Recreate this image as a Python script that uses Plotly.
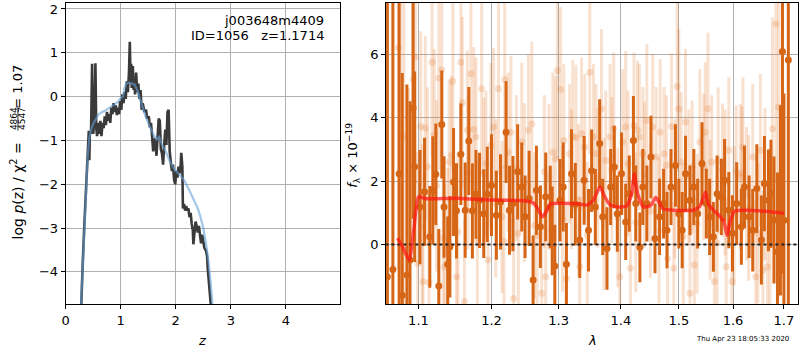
import math
import plotly.graph_objects as go

# ---------------- left panel: redshift PDF ----------------
pz_z = [0.27, 0.28, 0.31, 0.34, 0.37, 0.40, 0.42, 0.43, 0.44, 0.46, 0.48, 0.49, 0.50, 0.52, 0.54,
        0.555, 0.57, 0.59, 0.61, 0.63, 0.65, 0.67, 0.69, 0.71, 0.73, 0.75, 0.77, 0.79, 0.81, 0.83,
        0.85, 0.87, 0.89, 0.91, 0.93, 0.95, 0.97, 0.99, 1.01, 1.03, 1.05, 1.07, 1.09, 1.11, 1.13,
        1.15, 1.165, 1.18, 1.19, 1.20, 1.22, 1.235, 1.25, 1.26, 1.28, 1.30, 1.32, 1.34, 1.36, 1.38,
        1.40, 1.43, 1.46, 1.48, 1.51, 1.53, 1.55, 1.57, 1.59, 1.61, 1.63, 1.65, 1.67, 1.69, 1.71,
        1.73, 1.75, 1.77, 1.79, 1.81, 1.83, 1.85, 1.87, 1.89, 1.91, 1.93, 1.95, 1.97, 1.99, 2.01,
        2.03, 2.05, 2.07, 2.09, 2.10, 2.12, 2.13, 2.15, 2.17, 2.19, 2.21, 2.23, 2.25, 2.27, 2.29,
        2.31, 2.32, 2.34, 2.36, 2.38, 2.40, 2.42, 2.44, 2.46, 2.48, 2.50, 2.52, 2.55, 2.57, 2.58,
        2.60, 2.62, 2.64, 2.66]
pz_logp = [-5.2, -4.74, -3.8, -2.9, -2.0, -1.2, -0.78, -1.45, -0.78, -0.85, 0.75, -0.6, -0.85, -0.55, 0.76,
           -0.70, -0.9, -0.6, -0.85, -0.55, -0.9, -0.6, -0.72, -0.45, -0.65, -0.35, -0.55, -0.4, -0.6, -0.25,
           -0.4, -0.15, -0.35, -0.2, -0.42, -0.25, -0.4, -0.1, -0.3, 0.05, -0.15, 0.1, -0.05, 0.35, 0.1,
           0.55, 1.25, 0.3, 0.75, 0.2, 0.7, 0.15, 0.45, 0.05, 0.55, 0.1, 0.3, -0.05, 0.15, -0.3,
           -0.15, -0.35, -0.3, -0.5, -0.45, -0.7, -0.6, -0.9, -1.25, -0.95, -1.05, -1.35, -0.75, -0.5, -0.55,
           -1.2, -1.3, -1.55, -1.1, -0.75, -1.1, -0.35, -0.3, -1.25, -1.5, -1.7, -1.55, -1.9, -2.0, -1.7,
           -1.85, -1.6, -1.75, -1.55, -1.28, -1.6, -2.55, -2.45, -2.6, -2.5, -2.6, -2.55, -2.75, -2.65, -2.9,
           -3.05, -3.37, -3.0, -2.85, -2.95, -3.1, -2.95, -3.2, -3.35, -3.15, -3.3, -3.45, -3.52, -3.65, -3.9,
           -4.2, -4.5, -4.75, -5.1]

chi_z = [0.27, 0.32, 0.36, 0.40, 0.43, 0.46, 0.50, 0.55, 0.60, 0.65, 0.70, 0.80, 0.90, 0.95, 1.00,
         1.04, 1.07, 1.10, 1.15, 1.20, 1.25, 1.30, 1.35, 1.40, 1.45, 1.50, 1.55, 1.60, 1.65, 1.70,
         1.75, 1.80, 1.85, 1.90, 1.96, 2.05, 2.15, 2.25, 2.33, 2.40, 2.45, 2.50, 2.55, 2.60, 2.63, 2.66, 2.70]
chi_logp = [-5.0, -3.6, -2.4, -1.35, -0.95, -0.75, -0.62, -0.52, -0.40, -0.36, -0.33, -0.25, -0.15, -0.12, -0.03,
            0.0, 0.2, 0.3, 0.32, 0.3, 0.28, 0.15, -0.05, -0.3, -0.45, -0.6, -0.75, -0.88, -0.98, -0.92,
            -1.1, -1.2, -1.35, -1.5, -1.63, -1.75, -1.9, -2.15, -2.35, -2.55, -2.75, -3.0, -3.35, -3.8, -4.2, -4.65, -5.2]

# ---------------- right panel: spectrum ----------------
dark_wave = [1.060, 1.067, 1.075, 1.079, 1.085, 1.089, 1.093, 1.095, 1.102, 1.108,
             1.115, 1.119, 1.123, 1.127, 1.131, 1.134, 1.139, 1.142, 1.147, 1.151,
             1.157, 1.163, 1.168, 1.173, 1.178, 1.183, 1.189, 1.194, 1.200, 1.207,
             1.213, 1.221, 1.226, 1.231, 1.238, 1.244, 1.249, 1.255, 1.261, 1.266,
             1.272, 1.280, 1.287, 1.290, 1.294, 1.302, 1.307, 1.312, 1.320, 1.326,
             1.333, 1.340, 1.347, 1.352, 1.358, 1.365, 1.370, 1.377, 1.383, 1.389,
             1.394, 1.401, 1.408, 1.414, 1.421, 1.425, 1.432, 1.437, 1.444, 1.451,
             1.458, 1.466, 1.473, 1.479, 1.486, 1.494, 1.500, 1.506, 1.512, 1.520,
             1.527, 1.534, 1.542, 1.550, 1.556, 1.563, 1.570, 1.578, 1.584, 1.592,
             1.599, 1.607, 1.616, 1.622, 1.631, 1.638, 1.646, 1.655, 1.661, 1.669,
             1.674, 1.680, 1.687, 1.693, 1.697, 1.700, 1.709]
dark_flux = [-1.02, -0.79, 2.23, -1.6, -0.96, -0.49, 4.31, 2.45, 1.18, 1.66,
             0.24, 1.71, 2.21, -1.31, 3.78, 1.18, -0.62, -0.07, 1.97, 1.06,
             2.84, 1.08, 3.26, 1.06, 1.58, 1.39, 0.97, 1.58, 1.87, 0.92,
             1.34, 3.54, 1.08, 1.29, 2.29, 1.81, 0.87, 1.45, -1.12, 1.71,
             0.56, 1.50, 1.18, 0.43, -0.68, 1.39, 1.81, -0.62, 2.23, 1.27,
             0.14, 2.02, 0.45, 2.32, 1.18, 3.18, 0.87, -0.13, 1.81, 2.44,
             0.97, 2.23, 0.71, 1.60, 3.28, 1.29, -0.09, 1.81, 1.29, 2.76,
             0.19, 0.87, 1.29, 0.45, 1.81, 2.49, 0.97, 0.45, 2.23, 1.39,
             1.81, 0.97, 2.55, 1.29, 0.87, 0.24, 1.60, 1.50, 2.02, 1.08,
             0.35, 1.29, 0.56, 1.81, 0.87, 0.45, 1.76, 0.14, 1.92, 1.39,
             1.60, 0.77, -0.23, 1.39, 6.08, 0.76, 5.81]
dark_err = [9, 9, 8, 7, 6, 5, 3.5, 3.0, 1.8, 1.7,
            1.6, 1.7, 1.6, 1.8, 1.7, 1.6, 1.5, 1.6, 1.7, 1.5,
            1.6, 1.5, 1.7, 1.5, 1.4, 1.5, 1.4, 1.5, 1.6, 1.4,
            1.5, 1.6, 1.4, 1.5, 1.5, 1.4, 1.3, 1.5, 1.4, 1.4,
            1.3, 1.4, 1.3, 1.4, 1.3, 1.3, 1.4, 1.3, 1.4, 1.3,
            1.2, 1.4, 1.3, 1.3, 1.2, 1.4, 1.2, 1.3, 1.2, 1.3,
            1.2, 1.3, 1.2, 1.2, 1.4, 1.2, 1.1, 1.2, 1.2, 1.3,
            1.1, 1.2, 1.1, 1.2, 1.2, 1.3, 1.1, 1.2, 1.2, 1.1,
            1.2, 1.1, 1.3, 1.1, 1.2, 1.1, 1.2, 1.2, 1.3, 1.2,
            1.2, 1.3, 1.2, 1.3, 1.3, 1.3, 1.4, 1.4, 1.5, 1.6,
            1.7, 2.0, 2.5, 3.0, 7.0, 4.0, 9.0]

light_wave = [1.074, 1.077, 1.081, 1.087, 1.093, 1.096, 1.099, 1.103, 1.106, 1.109,
              1.114, 1.118, 1.121, 1.127, 1.131, 1.135, 1.139, 1.144, 1.146, 1.151,
              1.157, 1.159, 1.162, 1.166, 1.171, 1.175, 1.178, 1.186, 1.189, 1.195,
              1.199, 1.203, 1.210, 1.215, 1.219, 1.224, 1.228, 1.232, 1.239, 1.244,
              1.254, 1.259, 1.267, 1.274, 1.280, 1.285, 1.291, 1.298, 1.303, 1.308,
              1.312, 1.317, 1.322, 1.327, 1.333, 1.336, 1.341, 1.349, 1.355, 1.359,
              1.368, 1.375, 1.382, 1.388, 1.398, 1.403, 1.408, 1.416, 1.422, 1.428,
              1.431, 1.437, 1.444, 1.454, 1.460, 1.467, 1.474, 1.480, 1.487, 1.491,
              1.497, 1.500, 1.504, 1.512, 1.520, 1.524, 1.528, 1.538, 1.548, 1.553,
              1.560, 1.565, 1.572, 1.580, 1.587, 1.592, 1.598, 1.606, 1.614, 1.619,
              1.626, 1.638, 1.644, 1.653, 1.658, 1.667, 1.677, 1.684, 1.689]
light_flux = [6.21, 3.54, 3.39, -0.07, 5.20, 5.90, -0.60, 3.72, -1.17, 3.67,
              -1.20, 5.74, 3.46, 5.25, 5.50, -0.70, -0.28, 2.81, 5.14, -1.02,
              5.74, 4.47, -1.80, 3.61, 5.38, 3.62, 3.39, 4.91, 2.23, -0.49,
              3.12, 3.70, 4.91, 0.87, 5.20, 2.91, 3.54, -1.70, 0.35, 3.23,
              3.60, 3.80, 0.29, -1.54, -1.02, 2.13, 2.91, 5.48, 4.88, 3.28,
              -1.07, 2.86, 3.41, 3.36, -0.70, 3.49, 3.07, 5.43, 3.39, 2.86,
              4.28, 2.65, 3.39, 3.65, -1.02, 3.23, 3.70, -0.75, 3.75, 3.60,
              3.39, 2.86, 3.91, 3.70, 2.76, 3.54, 2.86, -0.44, 3.72, -0.75,
              4.98, 4.28, 2.60, 3.86, -1.54, 2.44, -0.65, 3.23, 3.54, 4.28,
              2.60, -1.17, 2.65, 2.34, -0.70, 2.97, -1.17, 2.29, 2.13, 3.07,
              1.60, 2.76, -1.02, 2.97, -0.81, -0.70, 3.65, 6.95, 4.33]
light_err = [7, 6, 6, 5, 4.5, 4, 3.5, 3.0, 2.8, 2.9,
             2.8, 3.0, 2.7, 2.9, 2.8, 2.6, 2.7, 2.5, 2.8, 2.6,
             2.9, 2.7, 2.6, 2.5, 2.8, 2.6, 2.5, 2.7, 2.4, 2.5,
             2.6, 2.5, 2.7, 2.4, 2.8, 2.5, 2.4, 2.6, 2.3, 2.5,
             2.4, 2.6, 2.3, 2.5, 2.4, 2.3, 2.5, 2.8, 2.6, 2.4,
             2.3, 2.2, 2.4, 2.3, 2.2, 2.4, 2.3, 2.6, 2.3, 2.2,
             2.5, 2.2, 2.3, 2.4, 2.2, 2.3, 2.4, 2.1, 2.3, 2.2,
             2.3, 2.1, 2.4, 2.3, 2.2, 2.3, 2.1, 2.2, 2.3, 2.1,
             2.7, 2.5, 2.2, 2.3, 2.2, 2.1, 2.2, 2.3, 2.2, 2.4,
             2.1, 2.2, 2.3, 2.1, 2.2, 2.3, 2.2, 2.1, 2.3, 2.2,
             2.1, 2.3, 2.4, 2.4, 2.5, 2.6, 3.5, 5.0, 6.0]

light2_wave = [1.105, 1.112, 1.124, 1.133, 1.141, 1.153, 1.167, 1.180, 1.192, 1.206,
               1.218, 1.236, 1.248, 1.263, 1.278, 1.295, 1.306, 1.320, 1.331, 1.345,
               1.362, 1.372, 1.385, 1.395, 1.412, 1.425, 1.440, 1.450, 1.465, 1.478,
               1.493, 1.508, 1.518, 1.533, 1.545, 1.557, 1.570, 1.585, 1.602, 1.617,
               1.630, 1.648, 1.662, 1.672]
light2_flux = [0.55, 2.45, 1.85, 0.20, 2.60, 0.40, 2.25, 0.15, 2.55, 1.45,
               0.10, 2.40, 1.95, 0.60, 2.30, 2.70, 0.80, 2.05, 1.40, 0.30,
               2.10, 0.95, 2.35, 0.85, 2.55, 0.70, 2.20, 1.05, 0.45, 2.50,
               1.75, 0.25, 2.15, 0.65, 2.45, 1.10, 0.05, 1.95, 0.90, 2.25,
               1.15, 0.35, 1.90, 0.55]
light2_err = [2.6, 2.5, 2.7, 2.4, 2.6, 2.5, 2.4, 2.6, 2.3, 2.5,
              2.4, 2.3, 2.5, 2.3, 2.4, 2.6, 2.3, 2.2, 2.4, 2.3,
              2.2, 2.4, 2.3, 2.2, 2.3, 2.2, 2.3, 2.1, 2.3, 2.2,
              2.2, 2.3, 2.1, 2.2, 2.3, 2.2, 2.1, 2.3, 2.2, 2.1,
              2.3, 2.2, 2.4, 2.5]

model_wave = [1.073, 1.080, 1.088, 1.094, 1.100, 1.110, 1.150, 1.200, 1.248, 1.262,
              1.270, 1.275, 1.280, 1.288, 1.300, 1.330, 1.345, 1.355, 1.362, 1.366,
              1.372, 1.382, 1.396, 1.410, 1.418, 1.4226, 1.428, 1.438, 1.450, 1.4594,
              1.466, 1.472, 1.490, 1.526, 1.538, 1.545, 1.5486, 1.553, 1.562, 1.5744,
              1.583, 1.5887, 1.595, 1.6025, 1.620, 1.650, 1.700]
model_flux = [0.2, -0.1, -0.5, 0.5, 1.5, 1.44, 1.46, 1.40, 1.38, 1.30,
              1.05, 0.87, 1.00, 1.28, 1.30, 1.28, 1.24, 1.40, 1.70, 1.81,
              1.55, 1.25, 1.18, 1.22, 1.60, 2.23, 1.60, 1.18, 1.22, 1.48,
              1.30, 1.13, 1.08, 1.08, 1.20, 1.50, 1.65, 1.30, 1.10, 0.90,
              0.70, 0.29, 0.75, 1.05, 1.08, 1.06, 0.98]

xticks_left = [0, 1, 2, 3, 4]
yticks_left = [-4, -3, -2, -1, 0, 1, 2]
xticks_right = [1.1, 1.2, 1.3, 1.4, 1.5, 1.6, 1.7]
yticks_right = [0, 2, 4, 6]

for a, b in [(pz_z, pz_logp), (chi_z, chi_logp), (dark_wave, dark_flux), (dark_wave, dark_err),
             (light_wave, light_flux), (light_wave, light_err), (light2_wave, light2_flux),
             (light2_wave, light2_err), (model_wave, model_flux)]:
    assert len(a) == len(b), (len(a), len(b))

ORANGE = "rgb(214,102,22)"
ORANGE_LIGHT = "rgba(228,120,40,0.22)"
FONT = "DejaVu Sans"

fig = go.Figure()

# left panel
fig.add_trace(go.Scatter(x=pz_z, y=pz_logp, mode="lines", xaxis="x", yaxis="y",
                         line=dict(color="#3a3a3a", width=2.6), showlegend=False))
fig.add_trace(go.Scatter(x=chi_z, y=chi_logp, mode="lines", xaxis="x", yaxis="y",
                         line=dict(color="rgba(100,160,215,0.6)", width=2.2),
                         showlegend=False))

# right panel
for w, f, e in [(light_wave, light_flux, light_err), (light2_wave, light2_flux, light2_err)]:
    fig.add_trace(go.Scatter(x=w, y=f, mode="markers", xaxis="x2", yaxis="y2",
                             marker=dict(color=ORANGE_LIGHT, size=7),
                             error_y=dict(type="data", array=e, color=ORANGE_LIGHT, thickness=3, width=0),
                             showlegend=False))
fig.add_trace(go.Scatter(x=dark_wave, y=dark_flux, mode="markers", xaxis="x2", yaxis="y2",
                         marker=dict(color=ORANGE, size=7),
                         error_y=dict(type="data", array=dark_err, color=ORANGE, thickness=3, width=0),
                         showlegend=False))
fig.add_trace(go.Scatter(x=[1.05, 1.74], y=[0, 0], mode="lines", xaxis="x2", yaxis="y2",
                         line=dict(color="#222222", width=2, dash="dot"), showlegend=False))
fig.add_trace(go.Scatter(x=model_wave, y=model_flux, mode="lines", xaxis="x2", yaxis="y2",
                         line=dict(color="rgba(255,20,20,0.7)", width=3.5, shape="spline", smoothing=0.5),
                         showlegend=False))

W, H = 800, 350
def px(x):
    return x / W
def py(y):
    return 1 - y / H

axis_common = dict(showline=True, linecolor="black", linewidth=1, mirror=True,
                   ticks="outside", ticklen=4, tickwidth=1, tickcolor="black",
                   showgrid=True, gridcolor="#b0b0b0", gridwidth=1, zeroline=False,
                   tickfont=dict(family=FONT, size=13, color="black"))

fig.update_layout(
    width=W, height=H, margin=dict(l=0, r=0, t=0, b=0),
    paper_bgcolor="white", plot_bgcolor="white",
    xaxis=dict(domain=[px(62), px(338)], range=[0, 4.99], tickvals=xticks_left, anchor="y", **axis_common),
    yaxis=dict(domain=[py(304), py(2)], range=[-4.735, 2.137], tickvals=yticks_left, anchor="x", **axis_common),
    xaxis2=dict(domain=[px(384), px(798)], type="log",
                range=[math.log10(1.0584), math.log10(1.7288)],
                tickvals=xticks_right, ticktext=[f"{t:.1f}" for t in xticks_right],
                anchor="y2", **axis_common),
    yaxis2=dict(domain=[py(304), py(2)], range=[-1.88, 7.61], tickvals=yticks_right, anchor="x2", **axis_common),
)

ann = []
def add(text, x, y, size=13, angle=0, xanchor="center", yanchor="middle"):
    ann.append(dict(text=text, x=px(x), y=py(y), xref="paper", yref="paper", showarrow=False,
                    textangle=angle, xanchor=xanchor, yanchor=yanchor,
                    font=dict(family=FONT, size=size, color="black")))

add("j003648m4409", 324, 20, xanchor="right")
add("ID=1056\u00a0\u00a0\u00a0z=1.1714", 324, 35, xanchor="right")
add("<i>z</i>", 199, 340)
add("<i>λ</i>", 591, 340)
add("log\u00a0<i>p</i>(z)\u00a0/\u00a0χ<sup>2</sup>\u00a0=", 14, 190, size=14, angle=-90)
add("4864", 10, 117.5, size=9, angle=-90)
add("4547", 18, 117.5, size=9, angle=-90)
add("=\u00a01.07", 14, 86, size=13, angle=-90)
add("<i>f</i><sub>λ</sub> × 10<sup>−19</sup>", 350, 155, angle=-90)
add("Thu Apr 23 18:05:33 2020", 742, 339, size=7)
fig.update_layout(annotations=ann)
fig.add_shape(type="line", xref="paper", yref="paper", x0=px(14), x1=px(14), y0=py(105), y1=py(130),
              line=dict(color="black", width=0.8))

fig.write_html("out.html", config={"displayModeBar": False},
               post_script="document.body.style.margin='0px';")
